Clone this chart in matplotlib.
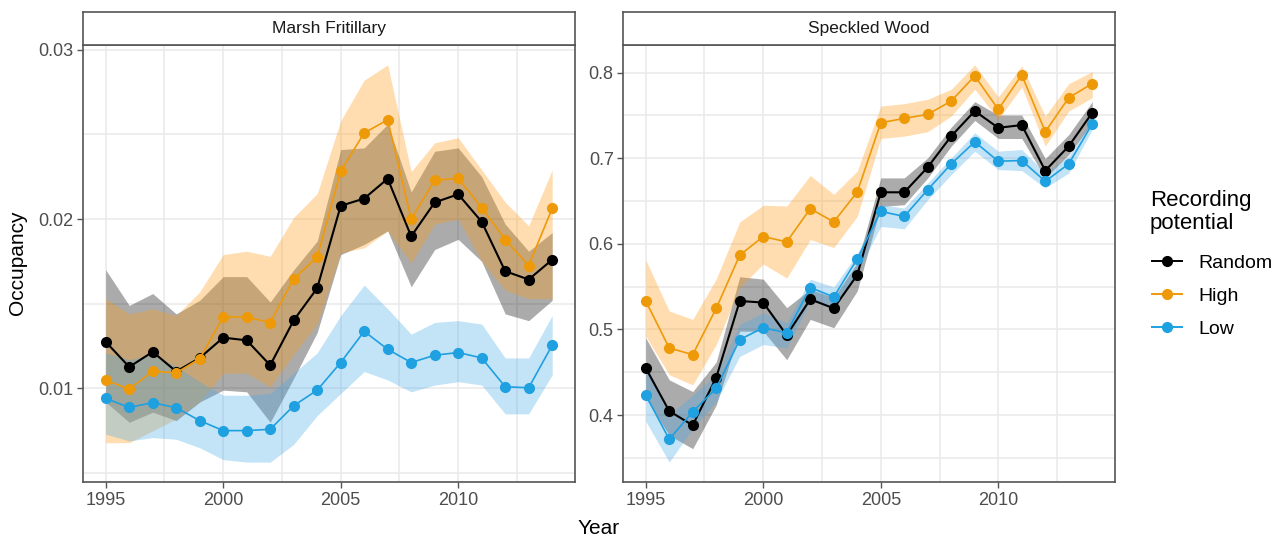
import matplotlib
matplotlib.use("Agg")
import matplotlib.pyplot as plt
from matplotlib.lines import Line2D

plt.rcParams['font.family'] = ['Liberation Sans', 'DejaVu Sans']

years = list(range(1995, 2015))
species = ["Marsh Fritillary", "Speckled Wood"]
groups = ["Random", "High", "Low"]
line_colours = {"Random": "#000000", "High": "#EE9A08", "Low": "#1FA0E0"}
fill_colours = {"Random": "#000000", "High": "#FF9A10", "Low": "#4AAAE8"}

# Marsh Fritillary: estimate, lower and upper interval per recording potential
mf_random = [0.01275, 0.01127, 0.01216, 0.0110, 0.0118, 0.0130, 0.01284, 0.01137, 0.01402, 0.01592,
             0.02078, 0.02121, 0.02238, 0.01898, 0.02098, 0.02146, 0.01984, 0.01692, 0.01643, 0.0176]
mf_random_lo = [0.0092, 0.0080, 0.0086, 0.0081, 0.0092, 0.0099, 0.0098, 0.0080, 0.0106, 0.0133,
                0.0179, 0.0185, 0.0193, 0.0160, 0.0182, 0.0188, 0.0175, 0.0144, 0.0140, 0.0152]
mf_random_hi = [0.0170, 0.0149, 0.0156, 0.0144, 0.0152, 0.0166, 0.0166, 0.0151, 0.0170, 0.0187,
                0.0241, 0.0242, 0.0256, 0.0216, 0.0240, 0.0242, 0.0225, 0.0197, 0.0181, 0.0192]
mf_high = [0.01049, 0.00996, 0.01102, 0.01092, 0.01176, 0.01422, 0.01422, 0.01388, 0.01647, 0.01775,
           0.02283, 0.02508, 0.02586, 0.0200, 0.02229, 0.0224, 0.02068, 0.01879, 0.01725, 0.02063]
mf_high_lo = [0.0068, 0.0068, 0.0075, 0.0082, 0.0092, 0.0109, 0.0109, 0.0101, 0.0120, 0.0138,
              0.0180, 0.0183, 0.0193, 0.0174, 0.0197, 0.0200, 0.0175, 0.0158, 0.0153, 0.0153]
mf_high_hi = [0.0153, 0.0144, 0.0147, 0.0143, 0.0157, 0.0179, 0.0181, 0.0178, 0.0201, 0.0215,
              0.0258, 0.0282, 0.0291, 0.0228, 0.0245, 0.0248, 0.0229, 0.0210, 0.0196, 0.0229]
mf_low = [0.00941, 0.00888, 0.00916, 0.00886, 0.0081, 0.00751, 0.00751, 0.00759, 0.00898, 0.0099,
          0.01153, 0.01337, 0.01231, 0.01153, 0.01196, 0.01212, 0.0118, 0.0101, 0.01004, 0.01255]
mf_low_lo = [0.0073, 0.0069, 0.0071, 0.0070, 0.0065, 0.0058, 0.00565, 0.00565, 0.0067, 0.0084,
             0.0097, 0.0110, 0.0105, 0.0098, 0.0102, 0.0104, 0.0102, 0.0085, 0.0085, 0.0108]
mf_low_hi = [0.0121, 0.0117, 0.0120, 0.0113, 0.0104, 0.0096, 0.0096, 0.0097, 0.0109, 0.0121,
             0.0143, 0.0161, 0.0147, 0.0132, 0.0139, 0.0140, 0.0138, 0.0118, 0.0118, 0.0143]

# Speckled Wood
sw_random = [0.455, 0.4047, 0.3882, 0.4439, 0.5333, 0.5314, 0.4933, 0.5353, 0.5247, 0.5637,
             0.6602, 0.6602, 0.6895, 0.7258, 0.7551, 0.7355, 0.7387, 0.6855, 0.7141, 0.7531]
sw_random_lo = [0.420, 0.3765, 0.3608, 0.4118, 0.498, 0.498, 0.4647, 0.5118, 0.502, 0.545,
                0.6437, 0.6457, 0.677, 0.7141, 0.7441, 0.723, 0.723, 0.677, 0.7043, 0.7414]
sw_random_hi = [0.4902, 0.4412, 0.4275, 0.462, 0.5616, 0.5588, 0.5255, 0.547, 0.5373, 0.578,
                0.677, 0.677, 0.7004, 0.7363, 0.766, 0.7504, 0.7504, 0.6996, 0.7277, 0.766]
sw_high = [0.5333, 0.4784, 0.4706, 0.5247, 0.5868, 0.6085, 0.6023, 0.6411, 0.6256, 0.6605,
           0.7414, 0.7465, 0.7512, 0.7668, 0.7961, 0.757, 0.7973, 0.7309, 0.7707, 0.7871]
sw_high_lo = [0.4922, 0.4471, 0.4353, 0.4824, 0.549, 0.5765, 0.560, 0.605, 0.5957, 0.632,
              0.723, 0.7258, 0.7309, 0.7492, 0.7805, 0.7453, 0.7832, 0.7141, 0.7551, 0.7707]
sw_high_hi = [0.5812, 0.5216, 0.5118, 0.559, 0.6256, 0.645, 0.6442, 0.6798, 0.6578, 0.685,
              0.7609, 0.7637, 0.7688, 0.7805, 0.809, 0.7715, 0.8078, 0.7492, 0.7871, 0.8012]
sw_low = [0.4235, 0.3718, 0.4039, 0.4314, 0.4882, 0.502, 0.4961, 0.549, 0.538, 0.5824,
          0.6379, 0.632, 0.6633, 0.6934, 0.7191, 0.6965, 0.6973, 0.673, 0.6934, 0.7402]
sw_low_lo = [0.393, 0.3451, 0.3843, 0.4157, 0.4686, 0.4824, 0.4784, 0.5333, 0.5255, 0.5667,
             0.6203, 0.6176, 0.6516, 0.6809, 0.7082, 0.6867, 0.6855, 0.6652, 0.6828, 0.7336]
sw_low_hi = [0.455, 0.400, 0.4235, 0.447, 0.5059, 0.5196, 0.5078, 0.5588, 0.5498, 0.5882,
             0.6457, 0.6418, 0.6711, 0.7004, 0.7297, 0.7082, 0.7102, 0.6828, 0.7023, 0.7465]

mf_ticks = [0.01, 0.02, 0.03]
mf_minor = [0.005, 0.015, 0.025]
sw_ticks = [0.4, 0.5, 0.6, 0.7, 0.8]
sw_minor = [0.35, 0.45, 0.55, 0.65, 0.75]
x_ticks = [1995, 2000, 2005, 2010]
x_minor = [1997.5, 2002.5, 2007.5, 2012.5]

panels = {
    "Marsh Fritillary": {
        "Random": (mf_random, mf_random_lo, mf_random_hi),
        "High": (mf_high, mf_high_lo, mf_high_hi),
        "Low": (mf_low, mf_low_lo, mf_low_hi),
        "ticks": mf_ticks, "minor": mf_minor, "fmt": "{:.2f}",
    },
    "Speckled Wood": {
        "Random": (sw_random, sw_random_lo, sw_random_hi),
        "High": (sw_high, sw_high_lo, sw_high_hi),
        "Low": (sw_low, sw_low_lo, sw_low_hi),
        "ticks": sw_ticks, "minor": sw_minor, "fmt": "{:.1f}",
    },
}

W, H = 1279, 541
def box(x0, y0, x1, y1):
    # pixel box (top-left origin) -> figure fraction
    return [x0 / W, 1 - y1 / H, (x1 - x0) / W, (y1 - y0) / H]

fig = plt.figure(figsize=(W / 100, H / 100), dpi=100)
border = "#555555"
grid_c = "#EBEBEB"
panel_x = [(83.4, 574.5), (623.4, 1114.6)]

for (x0, x1), name in zip(panel_x, species):
    ax = fig.add_axes(box(x0, 45, x1, 482))
    p = panels[name]
    lo_all, hi_all = [], []
    for g in groups:
        est, lo, hi = p[g]
        ax.fill_between(years, lo, hi, color=fill_colours[g], alpha=0.33, linewidth=0)
        lo_all += lo
        hi_all += hi
    for g in groups:
        est, lo, hi = p[g]
        lw = 1.5 if g == "Random" else 1.2
        ax.plot(years, est, color=line_colours[g], lw=lw, marker="o", ms=7)

    # ggplot-like 5% expansion
    ymin, ymax = min(lo_all), max(hi_all)
    pad = (ymax - ymin) * 0.05
    ax.set_ylim(ymin - pad, ymax + pad)
    ax.set_xlim(1995 - 0.95, 2014 + 0.95)

    ax.set_yticks(p["ticks"])
    ax.set_yticklabels([p["fmt"].format(t) for t in p["ticks"]])
    ax.set_yticks(p["minor"], minor=True)
    ax.set_xticks(x_ticks)
    ax.set_xticks(x_minor, minor=True)
    ax.grid(True, which="both", color=grid_c, lw=1.2, zorder=0)
    ax.set_axisbelow(True)
    ax.tick_params(which="major", length=4, width=1, color=border,
                   labelsize=13, labelcolor="#4D4D4D", pad=3)
    ax.tick_params(which="minor", length=0)
    for s in ax.spines.values():
        s.set_color(border)
        s.set_linewidth(1.2)

    strip = fig.add_axes(box(x0, 12, x1, 45))
    strip.set_xticks([])
    strip.set_yticks([])
    for s in strip.spines.values():
        s.set_color(border)
        s.set_linewidth(1.2)
    strip.text(0.5, 0.5, name, ha="center", va="center", fontsize=12.5, color="#1A1A1A",
               transform=strip.transAxes)

fig.text(18 / W, 1 - 263 / H, "Occupancy", rotation=90, ha="center", va="center",
         fontsize=15, color="#000000")
fig.text(599 / W, 1 - 529 / H, "Year", ha="center", va="center", fontsize=15, color="#000000")

# legend: title as its own text, keys below it
fig.text(1150 / W, 1 - 212 / H, "Recording\npotential", ha="left", va="center",
         fontsize=16, color="#000000", linespacing=1.1)
handles = [Line2D([], [], color=line_colours[g], lw=1.4, marker="o", ms=7) for g in groups]
fig.legend(handles, groups, loc="upper left", bbox_to_anchor=(1152 / W, 1 - 254 / H),
           frameon=False, fontsize=14, borderpad=0, borderaxespad=0,
           handlelength=1.55, handletextpad=0.85, labelspacing=0.8)

fig.savefig("out.png", dpi=100)
